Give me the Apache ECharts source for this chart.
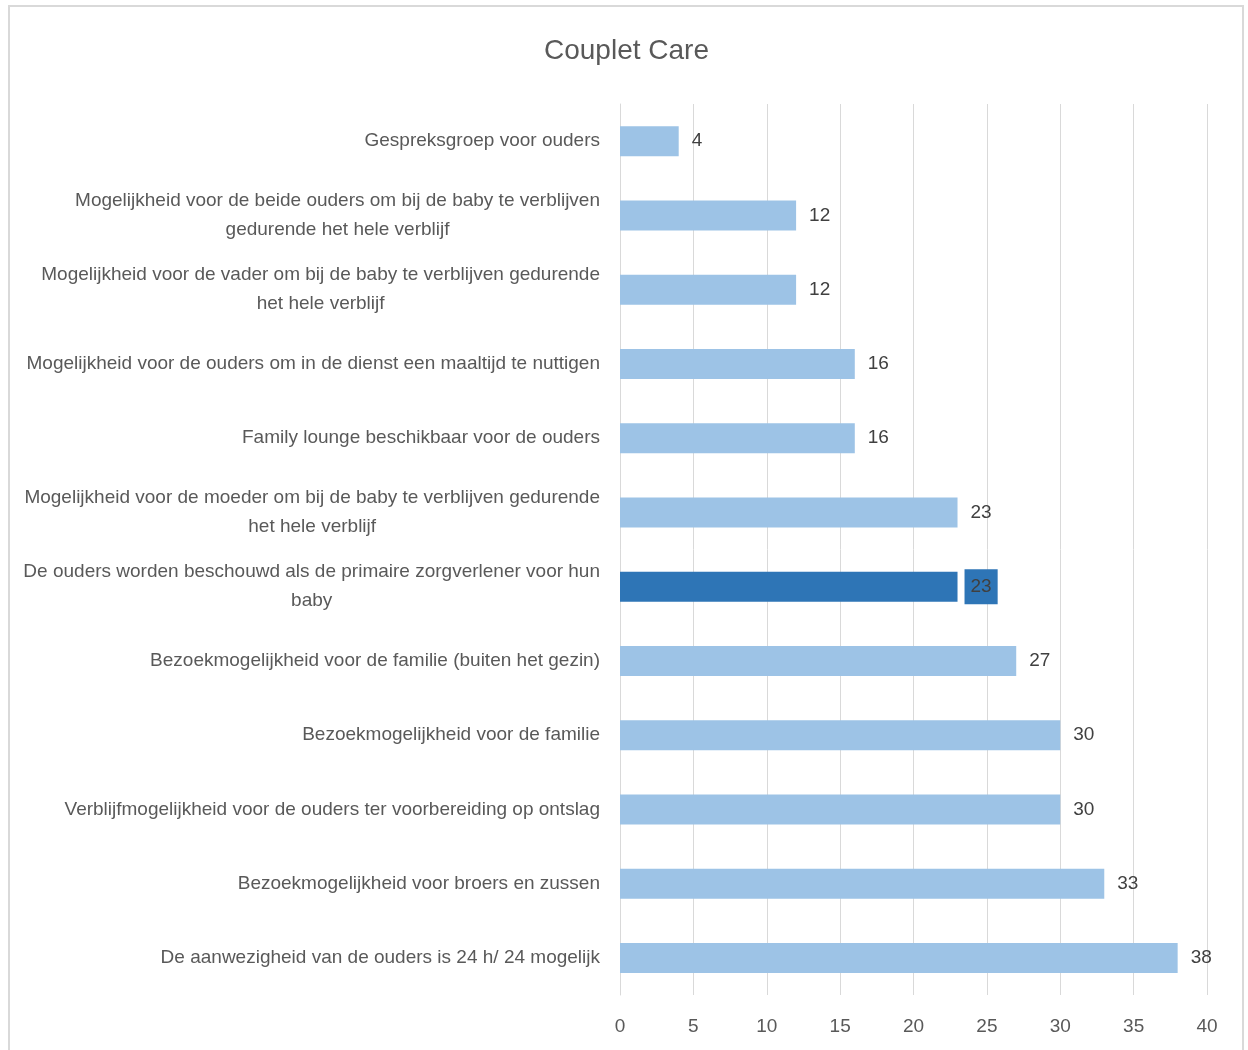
<!DOCTYPE html>
<html><head><meta charset="utf-8">
<script src="https://cdn.jsdelivr.net/npm/echarts@6/dist/echarts.min.js"></script>
<style>html,body{margin:0;padding:0;background:#fff}#c{width:1248px;height:1050px}</style>
</head><body><div id="c"></div>
<script>
const title = 'Couplet Care';
const categories = [
  'Gespreksgroep voor ouders',
  'Mogelijkheid voor de beide ouders om bij de baby te verblijven\ngedurende het hele verblijf',
  'Mogelijkheid voor de vader om bij de baby te verblijven gedurende\nhet hele verblijf',
  'Mogelijkheid voor de ouders om in de dienst een maaltijd te nuttigen',
  'Family lounge beschikbaar voor de ouders',
  'Mogelijkheid voor de moeder om bij de baby te verblijven gedurende\nhet hele verblijf',
  'De ouders worden beschouwd als de primaire zorgverlener voor hun\nbaby',
  'Bezoekmogelijkheid voor de familie (buiten het gezin)',
  'Bezoekmogelijkheid voor de familie',
  'Verblijfmogelijkheid voor de ouders ter voorbereiding op ontslag',
  'Bezoekmogelijkheid voor broers en zussen',
  'De aanwezigheid van de ouders is 24 h/ 24 mogelijk'
];
const values = [4, 12, 12, 16, 16, 23, 23, 27, 30, 30, 33, 38];
const highlightIndex = 6;
const xTicks = [0, 5, 10, 15, 20, 25, 30, 35, 40];

const FONT = '"Liberation Sans Narrow", "Liberation Sans", sans-serif';
const chart = echarts.init(document.getElementById('c'));
chart.setOption({
  animation: false,
  title: {text: title, left: 539, top: 32, padding: 5,
    textStyle: {fontFamily: FONT, fontSize: 28, fontWeight: 'normal', color: '#595959'}},
  graphic: [{type: 'rect', shape: {x: 9, y: 6, width: 1234, height: 1070},
    style: {fill: null, stroke: '#d9d9d9', lineWidth: 2}, silent: true}],
  grid: {left: 620, right: 41, top: 104, height: 891},
  xAxis: {type: 'value', min: xTicks[0], max: xTicks[xTicks.length - 1], interval: 5,
    axisLine: {show: false}, axisTick: {show: false},
    splitLine: {lineStyle: {color: '#d9d9d9', width: 1}},
    axisLabel: {fontFamily: FONT, fontSize: 19, color: '#595959', margin: 22}},
  yAxis: {type: 'category', data: categories, inverse: true,
    axisLine: {show: true, lineStyle: {color: '#d9d9d9'}}, axisTick: {show: false},
    axisLabel: {margin: 20, color: '#595959', fontFamily: FONT, fontSize: 19, lineHeight: 29,
      formatter: v => v.split('\n').map(l => '{c|' + l + '}').join('\n'),
      rich: {c: {align: 'center', fontFamily: FONT, fontSize: 19, lineHeight: 29, color: '#595959'}}}},
  series: [{type: 'bar', barWidth: 30,
    data: values.map((v, i) => i === highlightIndex ? {value: v,
      itemStyle: {color: '#2E75B6'},
      label: {backgroundColor: '#2E75B6', padding: [9, 6, 7, 6], distance: 7}} : v),
    itemStyle: {color: '#9DC3E6'},
    label: {show: true, position: 'right', distance: 13, fontFamily: FONT, fontSize: 19, color: '#404040'}}]
});
</script></body></html>
